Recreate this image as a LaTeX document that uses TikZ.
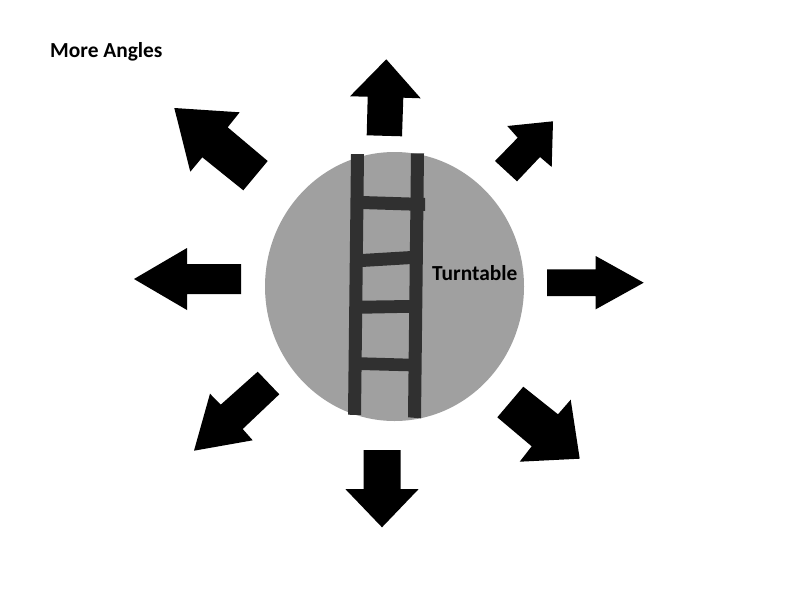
\documentclass[tikz,border=0pt]{standalone}
\usepackage{fontspec}
\setmainfont{Carlito}
\definecolor{tablegray}{HTML}{A0A0A0}
\definecolor{laddergray}{HTML}{303030}

\begin{document}
\begin{tikzpicture}[x=1pt,y=-1pt,
			bigarrow/.style={fill=black},
			rail/.style={fill=laddergray},
			caption/.style={inner sep=0pt,font=\fontsize{21.4}{25}\selectfont\bfseries}]
			\useasboundingbox (0,0) rectangle (800,600);
			% turntable
			\fill[tablegray] (394.5,286.5) ellipse [x radius=129.5,y radius=134.5];
			% ladder
			\fill[rail] (351,154) -- (364,154) -- (361,415) -- (348,414.7) -- cycle;
			\fill[rail] (411,153.3) -- (424,153.3) -- (421,418.3) -- (408,417.3) -- cycle;
			\fill[rail] (361.7,196) -- (425,198) -- (425,211) -- (361.7,209) -- cycle;
			\fill[rail] (361.7,254) -- (411.7,251) -- (411.7,264) -- (361.7,267) -- cycle;
			\fill[rail] (361.7,300.7) -- (411.7,300) -- (411.7,312.7) -- (361.7,313.7) -- cycle;
			\fill[rail] (360.7,357.3) -- (410,358.7) -- (410,371.3) -- (360.7,370) -- cycle;
			% arrows, clockwise from the top
			\fill[bigarrow] (386.3,59.3) -- (420.7,98.3) -- (403.3,97.7) -- (402,136.3) -- (366.7,135.3) -- (367.7,96.7) -- (350,96.3) -- cycle;
			\fill[bigarrow] (553,121.3) -- (551.7,167) -- (540,157) -- (517,181.3) -- (495,161) -- (517.7,137.7) -- (507.3,126) -- cycle;
			\fill[bigarrow] (643.7,282.7) -- (595.7,309.3) -- (595.7,296) -- (547,296) -- (547,269.3) -- (595.7,269.3) -- (595.7,256) -- cycle;
			\fill[bigarrow] (579.7,458.7) -- (519.7,461.7) -- (531.7,446.3) -- (497.3,417.3) -- (523.3,386.7) -- (558,414.3) -- (570.7,399.7) -- cycle;
			\fill[bigarrow] (382,527.3) -- (345.3,489) -- (363.7,489) -- (363.7,450) -- (400.7,450) -- (400.7,489) -- (418.7,489) -- cycle;
			\fill[bigarrow] (194,450.7) -- (210,393.7) -- (220.7,404.7) -- (257.7,371.7) -- (279.3,394.3) -- (242.7,429) -- (252.7,440.3) -- cycle;
			\fill[bigarrow] (134,279) -- (187,248) -- (187,264) -- (241,264) -- (241,294) -- (187,294) -- (187,310) -- cycle;
			\fill[bigarrow] (174.3,108) -- (239.7,112.3) -- (227.7,127.3) -- (267.7,161) -- (243.3,190.3) -- (202.3,157.3) -- (190.3,171.7) -- cycle;
			% labels
			\node (title) [caption,anchor=west] at (50,52) {More Angles};
			\node (turntable) [caption,anchor=west] at (432,273.5) {Turntable};
		\end{tikzpicture}
\end{document}
